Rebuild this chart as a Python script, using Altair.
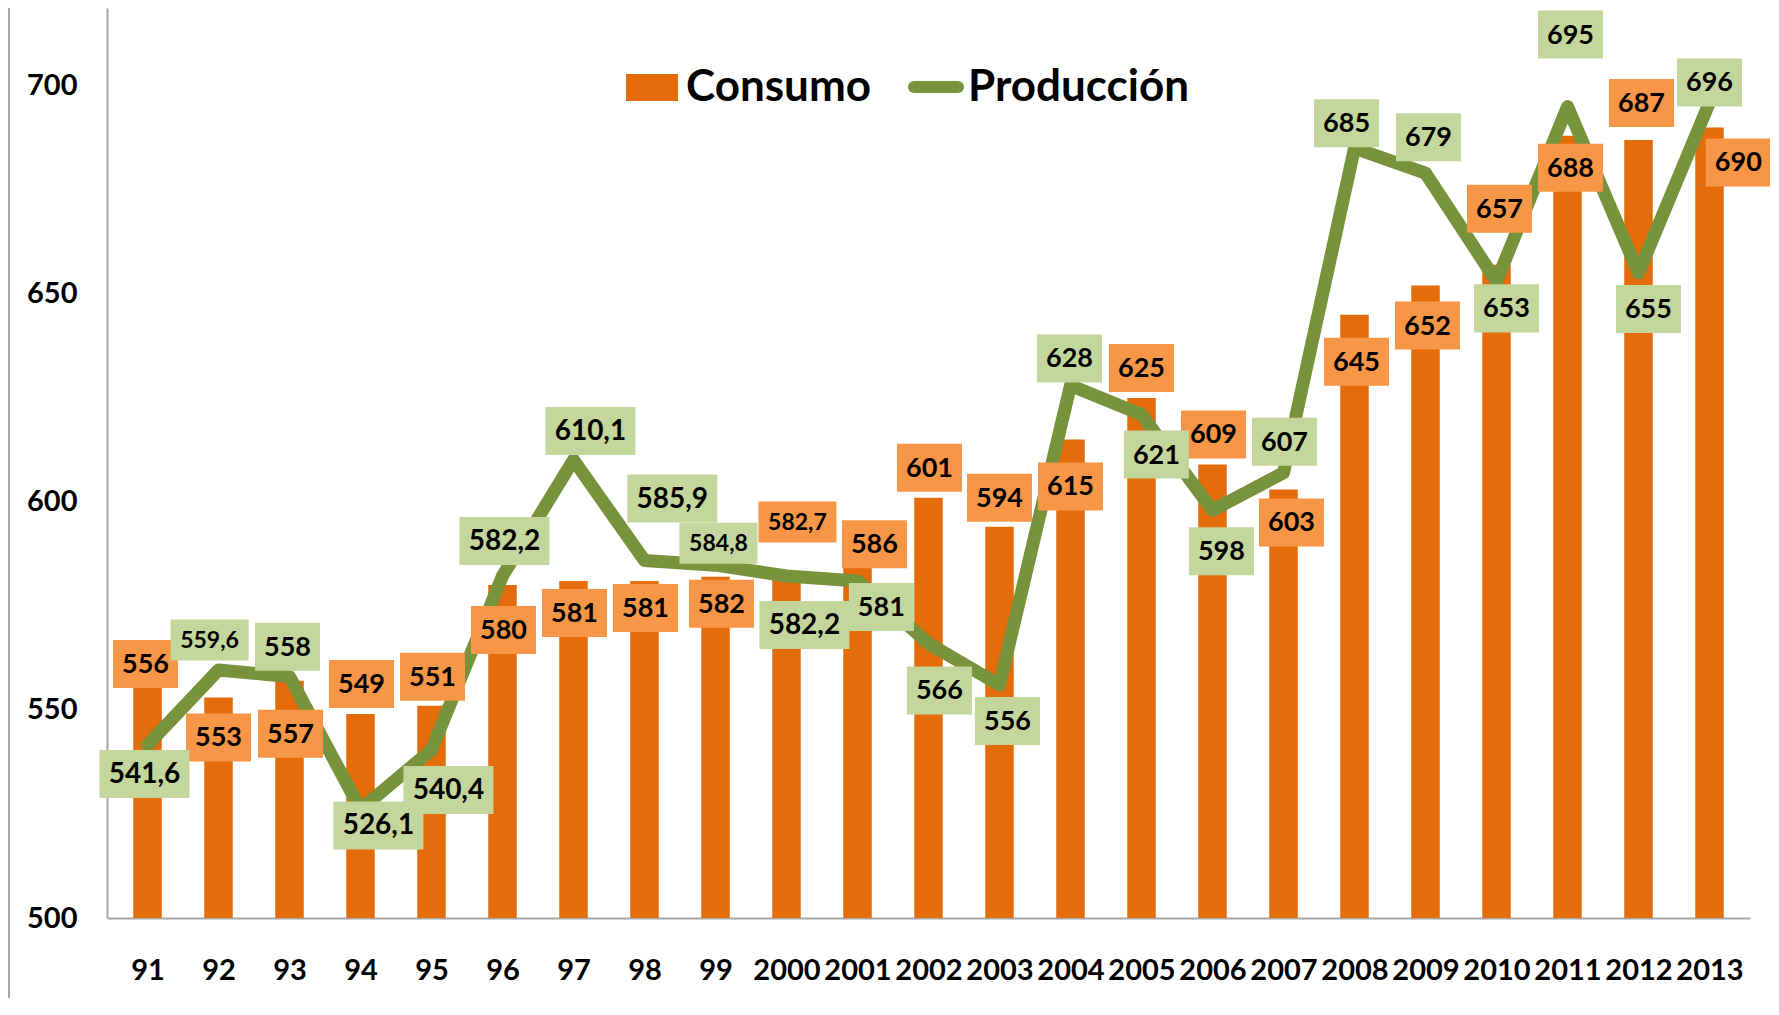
import json
import altair as alt
import pandas as pd

# ---------------- data ----------------
years = ["91", "92", "93", "94", "95", "96", "97", "98", "99", "2000", "2001",
         "2002", "2003", "2004", "2005", "2006", "2007", "2008", "2009", "2010",
         "2011", "2012", "2013"]
consumo = [556, 553, 557, 549, 551, 580, 581, 581, 582, 582.7, 586, 601, 594,
           615, 625, 609, 603, 645, 652, 657, 688, 687, 690]
produccion = [541.6, 559.6, 558, 526.1, 540.4, 582.2, 610.1, 585.9, 584.8, 582.2,
              581, 566, 556, 628, 621, 598, 607, 685, 679, 653, 695, 655, 696]

# label placement (pixel offsets of the label box from its data point)
cons_dx = [-2, 0, 1, 1, 1, 1, 1, 1, 6, 11, 17, 1, 0, 0, 0, 1, 8, 2, 2, 3, 3, 3, 29]
cons_dy = [-21, 40, 53, -30, -29, 45, 32, 27, 27, -52, -16, -30, -29, 47, -30,
           -30, 33, 47, 40, -56, 32, -37, 35]
prod_dx = [-3, -9, -2, 18, 17, 2, 17, 28, 3, 18, 24, 11, 8, -1, 15, 9, 1, -8, 3,
           10, 3, 10, 0]
prod_dy = [29, -30, -30, 16, 40, -35, -29, -62, -22, 49, 26, 47, 36, -27, 40, 41,
           -31, -25, -36, 27, -72, 36, -20]
cons_small = [9]       # labels drawn in the smaller type
prod_small = [1, 8]

# ---------------- layout / style ----------------
W, H = 1643, 910
Y_MIN, Y_MAX = 500, 718.7
N = len(years)
STEP = W / N
PPU = H / (Y_MAX - Y_MIN)

BAR = "#E46C0A"
BAR_LAB = "#F79646"
LINE = "#77933C"
LINE_LAB = "#C3D69B"
FONT = "Lato"


def fmt(v):
    return f"{v:g}".replace(".", ",")


def label_frame(values, dxs, dys, small):
    rows = []
    for i, (v, dx, dy) in enumerate(zip(values, dxs, dys)):
        txt = fmt(v)
        is_small = i in small
        if is_small:
            bw, bh, fs = 78, 41, 23
        elif len(txt) > 3:
            bw, bh, fs = 90, 48, 28
        else:
            bw, bh, fs = 65, 48, 27
        a = bh / bw
        shape = f"M-1,-{a:.4f}L1,-{a:.4f}L1,{a:.4f}L-1,{a:.4f}Z"
        rows.append({
            "idx": i,
            "text": txt,
            "lx": i + dx / STEP,
            "ly": v - dy / PPU,
            "fs": fs,
            "shape": shape,
            "size": bw * bw,
        })
    return pd.DataFrame(rows)


df = pd.DataFrame({"idx": list(range(N)), "year": years,
                   "consumo": consumo, "produccion": produccion})
cons_lab = label_frame(consumo, cons_dx, cons_dy, cons_small)
prod_lab = label_frame(produccion, prod_dx, prod_dy, prod_small)

xscale = alt.Scale(domain=[-0.5, N - 0.5], nice=False, zero=False)
yscale = alt.Scale(domain=[Y_MIN, Y_MAX], nice=False, zero=False)

x_axis = alt.Axis(
    values=list(range(N)),
    labelExpr=json.dumps(years) + "[datum.value]",
    title=None, grid=False, ticks=False, tickSize=0,
    labelPadding=52, labelBaseline="middle", labelFlush=False,
    labelOverlap=False, domainColor="#A6A6A6", domainWidth=2,
)
y_axis = alt.Axis(
    values=[500, 550, 600, 650, 700], format="d", title=None, grid=False,
    ticks=False, tickSize=0, labelPadding=30, domainColor="#A6A6A6",
    domainWidth=2,
)


def X(field):
    return alt.X(field, scale=xscale, axis=x_axis, title=None)


def Y(field):
    return alt.Y(field, scale=yscale, axis=y_axis, title=None)


base = alt.Chart(df)

bars = base.mark_bar(color=BAR, width=28.5).encode(
    x=X("idx:Q"),
    y=Y("consumo:Q"),
    y2=alt.datum(Y_MIN),
)

line = base.mark_line(color=LINE, strokeWidth=13, strokeJoin="round",
                      strokeCap="round").encode(
    x=X("idx:Q"),
    y=Y("produccion:Q"),
)


def boxes(frame, color):
    return alt.Chart(frame).mark_point(filled=True, opacity=1, strokeWidth=0,
                                       color=color).encode(
        x=X("lx:Q"),
        y=Y("ly:Q"),
        shape=alt.Shape("shape:N", scale=None),
        size=alt.Size("size:Q", scale=None),
    )


def texts(frame):
    return alt.Chart(frame).mark_text(font=FONT, fontWeight="bold",
                                      color="black", baseline="middle",
                                      align="center", dy=1).encode(
        x=X("lx:Q"),
        y=Y("ly:Q"),
        text="text:N",
        size=alt.Size("fs:Q", scale=None),
    )


# legend
leg_c = pd.DataFrame({"label": ["Consumo"]})
leg_p = pd.DataFrame({"label": ["Producción"]})
leg_rect = alt.Chart(leg_c).mark_rect(color=BAR).encode(
    x=alt.value(519), x2=alt.value(571), y=alt.value(66), y2=alt.value(93))
leg_ctext = alt.Chart(leg_c).mark_text(font=FONT, fontWeight="bold", fontSize=44,
                                       align="left", baseline="middle",
                                       color="black").encode(
    x=alt.value(579), y=alt.value(80), text="label:N")
leg_rule = alt.Chart(leg_p).mark_rule(color=LINE, strokeWidth=12,
                                      strokeCap="round").encode(
    x=alt.value(807), x2=alt.value(851), y=alt.value(79))
leg_ptext = alt.Chart(leg_p).mark_text(font=FONT, fontWeight="bold", fontSize=44,
                                       align="left", baseline="middle",
                                       color="black").encode(
    x=alt.value(861), y=alt.value(80), text="label:N")

# thin outer frame line on the left edge of the picture
frame_line = alt.Chart(leg_c).mark_rule(color="#A6A6A6", strokeWidth=2).encode(
    x=alt.value(-98), y=alt.value(0), y2=alt.value(H + 80))

chart = alt.layer(
    frame_line,
    bars, line,
    boxes(cons_lab, BAR_LAB), texts(cons_lab),
    boxes(prod_lab, LINE_LAB), texts(prod_lab),
    leg_rect, leg_ctext, leg_rule, leg_ptext,
).properties(
    width=W, height=H,
    padding={"left": 99, "top": 0, "right": 20, "bottom": 80},
    autosize=alt.AutoSizeParams(type="none"),
).configure_view(stroke=None).configure_axis(
    labelFont=FONT, labelFontWeight="bold", labelFontSize=29, labelColor="black",
)

chart.save("out.html", embed_options={"renderer": "svg", "actions": False})
